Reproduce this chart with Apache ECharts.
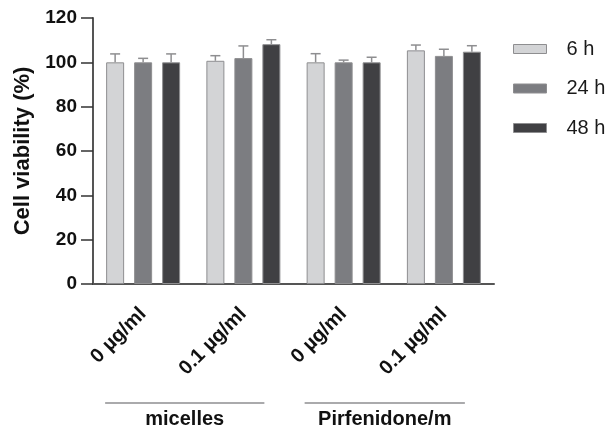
<!DOCTYPE html>
<html><head><meta charset="utf-8">
<script src="https://cdn.jsdelivr.net/npm/echarts@6/dist/echarts.min.js"></script>
<style>html,body{margin:0;padding:0;background:#fff}#c{width:611px;height:430px}</style>
</head><body><div id="c"></div>
<script>
const categories = ['0 µg/ml', '0.1 µg/ml', '0 µg/ml', '0.1 µg/ml'];
const groupLabels = ['micelles', 'Pirfenidone/m'];
const seriesNames = ['6 h', '24 h', '48 h'];
const v6 = [100, 100.7, 100, 105.4];
const e6 = [3.8, 2.3, 3.9, 2.4];
const v24 = [100, 101.9, 100, 102.9];
const e24 = [1.8, 5.5, 1.0, 3.0];
const v48 = [100, 108.2, 100, 104.8];
const e48 = [3.8, 2.0, 2.3, 2.7];
const yTicks = [0, 20, 40, 60, 80, 100, 120];

const values = [v6, v24, v48];
const errors = [e6, e24, e48];
const colors = ['#d3d4d6', '#7c7d81', '#404043'];
const BAR_W = 18, BAR_GAP = 10;
const FONT = 'Liberation Sans, Arial, sans-serif';

const chart = echarts.init(document.getElementById('c'));
const series = [];
values.forEach((vals, i) => {
  series.push({
    name: seriesNames[i], type: 'bar', data: vals, barWidth: BAR_W, barGap: (BAR_GAP / BAR_W * 100) + '%',
    itemStyle: { color: colors[i], borderColor: '#8e8e90', borderWidth: 1 }, z: 2
  });
});
values.forEach((vals, i) => {
  series.push({
    type: 'custom', name: 'err' + i, z: 1,
    data: vals.map((v, k) => [k, v, v + errors[i][k]]),
    renderItem: function (params, api) {
      const k = api.value(0);
      const top = api.coord([k, api.value(2)]);
      const base = api.coord([k, api.value(1)]);
      const x = base[0] + (i - 1) * (BAR_W + BAR_GAP);
      return { type: 'group', children: [
        { type: 'line', shape: { x1: x, y1: base[1], x2: x, y2: top[1] }, style: { stroke: '#8e8e90', lineWidth: 1.5 } },
        { type: 'line', shape: { x1: x - 5, y1: top[1], x2: x + 5, y2: top[1] }, style: { stroke: '#8e8e90', lineWidth: 1.5 } }
      ]};
    }
  });
});

chart.setOption({
  animation: false,
  backgroundColor: '#fff',
  grid: { left: 93, right: 117, top: 18, bottom: 146 },
  legend: {
    data: seriesNames.map(n => ({ name: n, icon: 'rect' })), orient: 'vertical', left: 508, top: 34,
    itemWidth: 33, itemHeight: 9, itemGap: 19.5,
    itemStyle: { borderWidth: 1, borderColor: '#8e8e90' },
    textStyle: { fontFamily: FONT, fontSize: 20, color: '#1a1a1a', padding: [0, 0, 0, 15], height: 20, lineHeight: 20 },
    selectedMode: false
  },
  xAxis: {
    type: 'category', data: categories,
    axisLine: { lineStyle: { color: '#555', width: 2 } },
    axisTick: { alignWithLabel: true, length: 12, lineStyle: { color: '#333', width: 1.5 } },
    axisLabel: { rotate: 45, margin: 27, fontFamily: FONT, fontWeight: 'bold', fontSize: 20, color: '#111', interval: 0 }
  },
  yAxis: {
    type: 'value', min: 0, max: 120, interval: 20,
    name: 'Cell viability (%)', nameLocation: 'middle', nameGap: 55,
    nameTextStyle: { fontFamily: FONT, fontWeight: 'bold', fontSize: 22, color: '#111' },
    axisLine: { show: true, lineStyle: { color: '#555', width: 2 } },
    axisTick: { show: true, length: 12, lineStyle: { color: '#333', width: 1.5 } },
    splitLine: { show: false },
    axisLabel: { margin: 16, fontFamily: FONT, fontWeight: 'bold', fontSize: 19, color: '#111',
      formatter: v => yTicks.includes(v) ? String(v) : '' }
  },
  series: series
});

function drawGroups() {
  const c = categories.map((_, k) => chart.convertToPixel({ xAxisIndex: 0 }, k));
  const y0 = chart.convertToPixel({ yAxisIndex: 0 }, 0);
  const lineY = y0 + 119, textY = y0 + 135;
  const spans = [[c[0] - 38, c[1] + 21], [c[2] - 39, c[3] + 21]];
  const g = [];
  spans.forEach((s, i) => {
    g.push({ type: 'line', shape: { x1: s[0], y1: lineY, x2: s[1], y2: lineY }, style: { stroke: '#8e8e90', lineWidth: 1.5 } });
    g.push({ type: 'text', x: (s[0] + s[1]) / 2, y: textY, style: { text: groupLabels[i], font: 'bold 20px ' + FONT, fill: '#111', align: 'center', verticalAlign: 'middle' } });
  });
  chart.setOption({ graphic: g });
}
drawGroups();
</script></body></html>
